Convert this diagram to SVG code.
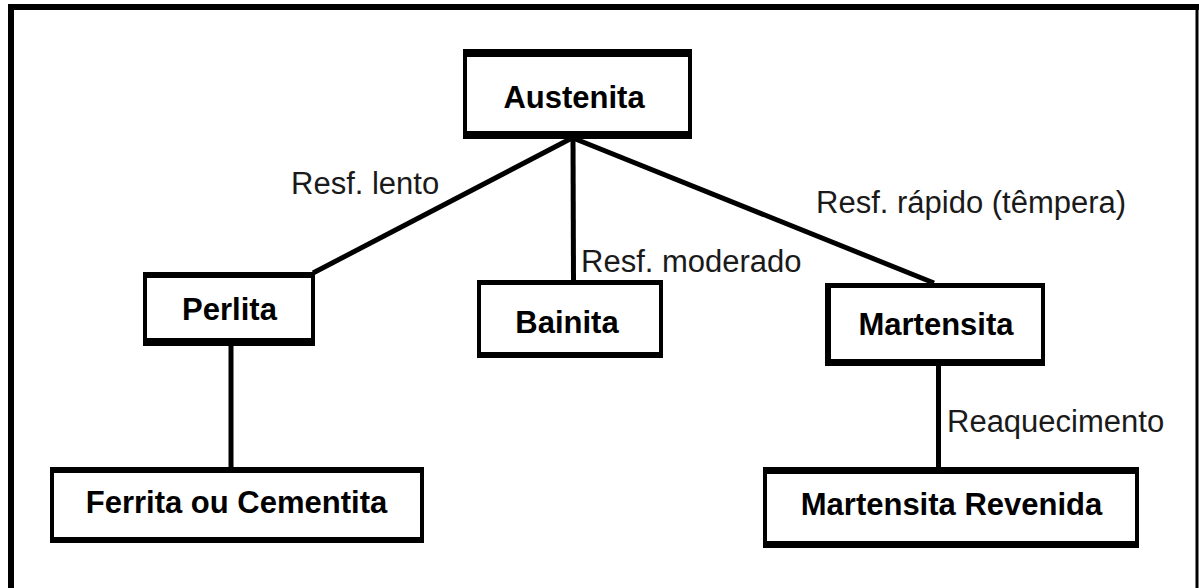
<svg xmlns="http://www.w3.org/2000/svg" width="1199" height="588" viewBox="0 0 1199 588">
  <style>
    .edge { stroke: #000; stroke-width: 5; fill: none; stroke-linecap: butt; }
    .frame-outer { fill: #000; }
    .frame-inner { fill: #fff; }
    .name { font-family: "Liberation Sans", Arial, sans-serif; font-weight: bold; font-size: 31px; fill: #000; text-anchor: middle; }
    .label { font-family: "Liberation Sans", Arial, sans-serif; font-size: 31px; fill: #1a1a1a; }
  </style>

  <rect x="0" y="0" width="1199" height="588" fill="#fff"/>

  <!-- open border: left, top, right (no bottom edge) -->
  <g id="border">
    <rect x="8" y="4" width="6" height="584" fill="#000"/>
    <rect x="8" y="4" width="1191" height="6" fill="#000"/>
    <rect x="1195.5" y="4" width="3" height="584" fill="#000"/>
  </g>

  <!-- connectors -->
  <g id="connectors">
    <line class="edge" x1="572" y1="138" x2="313" y2="273"/>
    <line class="edge" x1="573" y1="138" x2="573.5" y2="281"/>
    <line class="edge" x1="573" y1="138" x2="934" y2="283"/>
    <line class="edge" x1="231" y1="345" x2="231" y2="468"/>
    <line class="edge" x1="938.5" y1="365" x2="938.5" y2="468"/>
  </g>

  <!-- edge labels -->
  <g id="edge-labels">
    <text class="label" x="291" y="194">Resf. lento</text>
    <text class="label" x="581" y="272">Resf. moderado</text>
    <text class="label" x="816" y="213">Resf. rápido (têmpera)</text>
    <text class="label" x="947" y="432">Reaquecimento</text>
  </g>

  <!-- nodes: black outer rect with white inner rect gives the thick top/bottom bands -->
  <g id="node-austenita">
    <rect class="frame-outer" x="463" y="49" width="229" height="90"/>
    <rect class="frame-inner" x="467" y="57" width="221" height="74"/>
    <text class="name" x="574" y="108">Austenita</text>
  </g>

  <g id="node-perlita">
    <rect class="frame-outer" x="143" y="272" width="172" height="74"/>
    <rect class="frame-inner" x="147" y="278" width="164" height="60"/>
    <text class="name" x="229.5" y="320">Perlita</text>
  </g>

  <g id="node-bainita">
    <rect class="frame-outer" x="477" y="280" width="186" height="78"/>
    <rect class="frame-inner" x="481" y="285" width="178" height="67"/>
    <text class="name" x="567" y="333">Bainita</text>
  </g>

  <g id="node-martensita">
    <rect class="frame-outer" x="825" y="283" width="220" height="83"/>
    <rect class="frame-inner" x="831" y="288" width="210" height="71"/>
    <text class="name" x="936" y="335">Martensita</text>
  </g>

  <g id="node-ferrita-cementita">
    <rect class="frame-outer" x="50" y="467" width="374" height="76"/>
    <rect class="frame-inner" x="54" y="473" width="366" height="64"/>
    <text class="name" x="236.5" y="513">Ferrita ou Cementita</text>
  </g>

  <g id="node-martensita-revenida">
    <rect class="frame-outer" x="763" y="467" width="376" height="81"/>
    <rect class="frame-inner" x="767" y="474" width="368" height="67"/>
    <text class="name" x="951.5" y="515">Martensita Revenida</text>
  </g>
</svg>
